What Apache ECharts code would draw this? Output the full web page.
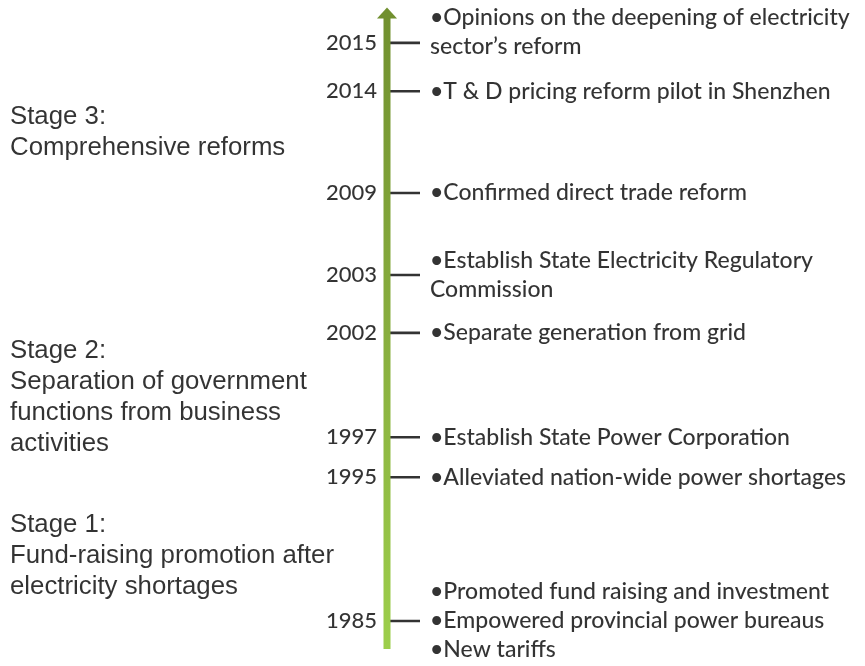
<!DOCTYPE html>
<html>
<head>
    <meta charset="UTF-8">
    <title></title>
    <script src="https://cdn.jsdelivr.net/npm/echarts@6/dist/echarts.min.js"></script>
</head>
<body style="margin:0;background:#fff;">
<div id="main" style="width: 865px;height:666px;"></div>
<script type="text/javascript">
    // timeline events, top to bottom
    var years = ['2015', '2014', '2009', '2003', '2002', '1997', '1995', '1985'];
    // position of each event along the arrow (0 = bottom, 100 = top)
    var slots = [95.3, 87.7, 71.7, 58.8, 49.7, 33.3, 27.0, 4.4];
    var events = [
        '•Opinions on the deepening of electricity\nsector’s reform',
        '•T & D pricing reform pilot in Shenzhen',
        '•Confirmed direct trade reform',
        '•Establish State Electricity Regulatory\nCommission',
        '•Separate generation from grid',
        '•Establish State Power Corporation',
        '•Alleviated nation-wide power shortages',
        '•Promoted fund raising and investment\n•Empowered provincial power bureaus\n•New tariffs'
    ];
    var stages = [
        'Stage 3:\nComprehensive reforms',
        'Stage 2:\nSeparation of government\nfunctions from business\nactivities',
        'Stage 1:\nFund-raising promotion after\nelectricity shortages'
    ];
    var stageSlots = [81.3, 39.6, 14.6];

    // small vertical nudge of the text next to a tick (first one sits higher)
    var textNudge = [-11, 0, 0, 0, 0, 0, 0, 0];

    var myChart = echarts.init(document.getElementById('main'));

    var barColor = new echarts.graphic.LinearGradient(0, 0, 0, 1, [
        {offset: 0, color: '#71902f'},
        {offset: 0.5, color: '#88ae3e'},
        {offset: 1, color: '#9dcf4b'}
    ]);

    var option = {
        animation: false,
        grid: {left: 380, width: 14, top: 13, bottom: 17},
        xAxis: {type: 'value', min: -1, max: 1, show: false},
        yAxis: {type: 'value', min: 0, max: 100, show: false},
        series: [
            {
                // the arrow
                type: 'line',
                clip: false,
                silent: true,
                z: 3,
                lineStyle: {width: 7, color: barColor},
                data: [
                    {value: [0, 0], symbol: 'none'},
                    {value: [0, 100], symbol: 'triangle', symbolSize: [20, 11],
                        itemStyle: {color: '#71902f', borderWidth: 0}}
                ]
            },
            {
                // tick marks
                type: 'scatter',
                silent: true,
                z: 2,
                symbol: 'rect',
                symbolSize: [33, 2.6],
                symbolOffset: [16.5, 0],
                itemStyle: {color: '#000'},
                data: slots.map(function (s) { return [0, s]; })
            },
            {
                // years
                type: 'scatter',
                silent: true,
                symbolSize: 0,
                label: {
                    show: true,
                    position: 'left',
                    distance: 10,
                    fontFamily: 'Lato',
                    fontWeight: 500,
                    fontSize: 22,
                    color: '#000',
                    formatter: function (p) { return years[p.dataIndex]; }
                },
                data: slots.map(function (s) { return [0, s]; })
            },
            {
                // events
                type: 'scatter',
                silent: true,
                symbolSize: 0,
                label: {
                    show: true,
                    position: 'right',
                    distance: 43,
                    align: 'left',
                    fontFamily: 'Lato',
                    fontWeight: 500,
                    fontSize: 23,
                    lineHeight: 29,
                    color: '#000',
                    formatter: function (p) { return events[p.dataIndex]; }
                },
                data: slots.map(function (s, i) {
                    return {value: [0, s], label: {offset: [0, textNudge[i]]}};
                })
            },
            {
                // stage captions on the left
                type: 'scatter',
                silent: true,
                symbolSize: 0,
                label: {
                    show: true,
                    position: 'left',
                    distance: 0,
                    align: 'left',
                    offset: [-370, 0],
                    fontFamily: '"Liberation Sans", Arial',
                    fontSize: 25.8,
                    lineHeight: 31,
                    color: '#000',
                    formatter: function (p) { return stages[p.dataIndex]; }
                },
                data: stageSlots.map(function (s) { return [-1, s]; })
            }
        ]
    };
    myChart.setOption(option);
</script>
</body>
</html>
